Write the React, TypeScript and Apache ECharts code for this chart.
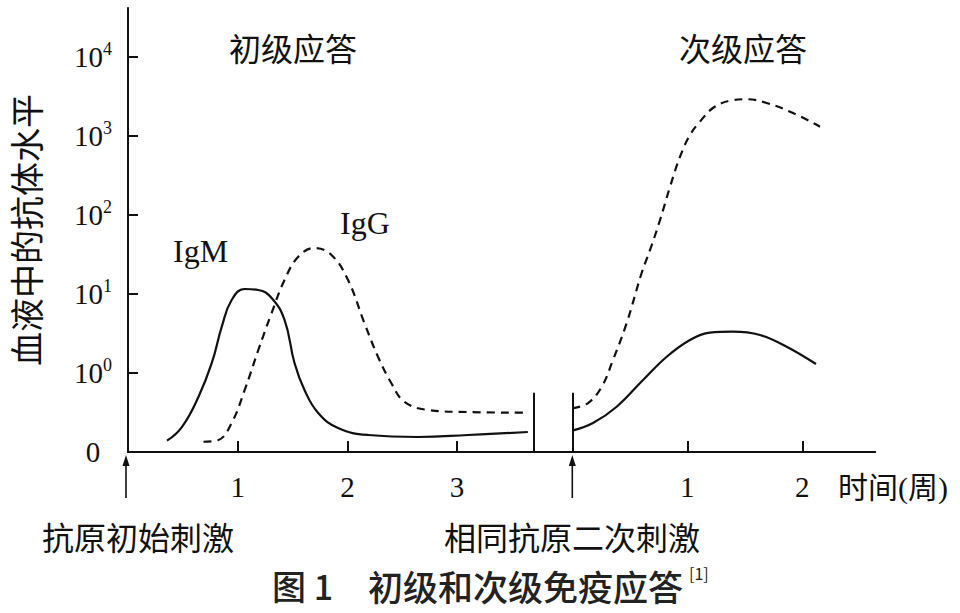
import React, { useEffect, useRef } from 'react';
import * as echarts from 'echarts';

// y axis: antibody level in log10 units; the "0" label sits one decade below 10^0
const yTickValues = [-1, 0, 1, 2, 3, 4];
const yMin = -1;
const yMax = 4.62;

// x axes (weeks)
const primaryTickWeeks = [1, 2, 3];
const secondaryTickWeeks = [1, 2];
const primaryMaxWeeks = 6.81;
const secondaryMaxWeeks = 2.632;
const breakWeek = 3.7;
const breakTopLog = -0.25;

// Primary response
const igmPrimaryWeeks = [0.355, 0.491, 0.643, 0.764, 0.855, 0.945, 1.064, 1.188, 1.309, 1.427, 1.518, 1.609, 1.734, 1.915, 2.191, 2.645, 3.1, 3.645];
const igmPrimaryLog = [-0.857, -0.684, -0.3, 0.127, 0.586, 0.924, 1.063, 1.051, 0.949, 0.671, 0.127, -0.215, -0.506, -0.696, -0.785, -0.81, -0.785, -0.747];

const iggPrimaryWeeks = [0.688, 0.825, 0.945, 1.064, 1.188, 1.309, 1.427, 1.552, 1.7, 1.855, 2.006, 2.155, 2.279, 2.4, 2.518, 2.734, 3.097, 3.643];
const iggPrimaryLog = [-0.87, -0.848, -0.633, -0.215, 0.291, 0.759, 1.177, 1.472, 1.582, 1.494, 1.177, 0.633, 0.206, -0.127, -0.363, -0.468, -0.494, -0.503];

// Secondary response
const igmSecondaryWeeks = [0, 0.18, 0.386, 0.615, 0.821, 1.023, 1.197, 1.397, 1.632, 1.864, 2.119];
const igmSecondaryLog = [-0.73, -0.633, -0.427, -0.089, 0.206, 0.418, 0.51, 0.523, 0.481, 0.333, 0.114];

const iggSecondaryWeeks = [0, 0.137, 0.256, 0.354, 0.473, 0.603, 0.676, 0.763, 0.85, 0.937, 1.023, 1.11, 1.223, 1.371, 1.517, 1.69, 1.919, 2.154];
const iggSecondaryLog = [-0.447, -0.38, -0.173, 0.165, 0.633, 1.266, 1.557, 1.937, 2.358, 2.738, 3.013, 3.181, 3.354, 3.447, 3.465, 3.418, 3.291, 3.118];

const SERIF = '"Liberation Serif", "Noto Sans CJK SC", serif';
const CJK = '"Noto Sans CJK SC", sans-serif';
const INK = '#111';

const zip = (xs: number[], ys: number[]) => xs.map((x, i) => [x, ys[i]]);

export default function App() {
  const ref = useRef<HTMLDivElement>(null);

  useEffect(() => {
    if (!ref.current) return;
    const chart = echarts.init(ref.current, null, { renderer: 'svg' });

    const gridTop = 8;
    const gridHeight = 444;

    const yAxisCommon = {
      type: 'value',
      min: yMin,
      max: yMax,
      splitLine: { show: false },
    };

    const solid = { color: INK, width: 2.2, type: 'solid' };
    const dashed = { color: INK, width: 2.2, type: [8, 6] };

    const xAxisCommon = {
      type: 'value',
      min: 0,
      axisLine: { show: true, onZero: false, lineStyle: { color: INK, width: 2 } },
      splitLine: { show: false },
    };

    const option: any = {
      animation: false,
      backgroundColor: '#fff',
      grid: [
        { left: 126, top: gridTop, width: 749, height: gridHeight },
        { left: 572.3, top: gridTop, width: 302.7, height: gridHeight },
      ],
      xAxis: [
        {
          ...xAxisCommon,
          gridIndex: 0,
          max: primaryMaxWeeks,
          axisTick: { show: true, inside: true, length: 11, lineStyle: { color: INK, width: 2 }, customValues: primaryTickWeeks },
          axisLabel: { show: true, customValues: primaryTickWeeks, margin: 20, fontSize: 29, lineHeight: 29, fontFamily: SERIF, color: INK },
        },
        {
          ...xAxisCommon,
          gridIndex: 1,
          max: secondaryMaxWeeks,
          axisTick: { show: true, inside: true, length: 11, lineStyle: { color: INK, width: 2 }, customValues: secondaryTickWeeks },
          axisLabel: { show: true, customValues: secondaryTickWeeks, margin: 20, fontSize: 29, lineHeight: 29, fontFamily: SERIF, color: INK },
        },
      ],
      yAxis: [
        {
          ...yAxisCommon,
          gridIndex: 0,
          name: '血液中的抗体水平',
          nameLocation: 'middle',
          nameRotate: 90,
          nameGap: 86,
          nameTextStyle: { fontSize: 34, fontFamily: CJK, color: INK },
          axisLine: { show: true, lineStyle: { color: INK, width: 2 } },
          axisTick: { show: true, inside: true, length: 10, lineStyle: { color: INK, width: 2 }, customValues: yTickValues },
          axisLabel: {
            show: true,
            customValues: yTickValues,
            align: 'center',
            margin: 35,
            formatter: (v: number) => (v === -1 ? '{b|0}' : `{b|10}{s|${v}}`),
            rich: {
              b: { fontSize: 29, fontFamily: SERIF, color: INK },
              s: { fontSize: 18, fontFamily: SERIF, color: INK, padding: [0, 0, 16, 0] },
            },
          },
        },
        {
          ...yAxisCommon,
          gridIndex: 1,
          show: false,
        },
      ],
      series: [
        {
          name: 'IgM 初级',
          type: 'line',
          xAxisIndex: 0,
          yAxisIndex: 0,
          data: zip(igmPrimaryWeeks, igmPrimaryLog),
          smooth: 0.45,
          showSymbol: false,
          symbol: 'none',
          lineStyle: solid,
          silent: true,
          markLine: {
            silent: true,
            symbol: ['none', 'none'],
            label: { show: false },
            lineStyle: { color: INK, width: 2, type: 'solid' },
            data: [[{ coord: [breakWeek, yMin] }, { coord: [breakWeek, breakTopLog] }]],
          },
        },
        {
          name: 'IgG 初级',
          type: 'line',
          xAxisIndex: 0,
          yAxisIndex: 0,
          data: zip(iggPrimaryWeeks, iggPrimaryLog),
          smooth: 0.4,
          showSymbol: false,
          symbol: 'none',
          lineStyle: dashed,
          silent: true,
        },
        {
          name: 'IgM 次级',
          type: 'line',
          xAxisIndex: 1,
          yAxisIndex: 1,
          data: zip(igmSecondaryWeeks, igmSecondaryLog),
          smooth: 0.4,
          showSymbol: false,
          symbol: 'none',
          lineStyle: solid,
          silent: true,
          markLine: {
            silent: true,
            symbol: ['none', 'none'],
            label: { show: false },
            lineStyle: { color: INK, width: 2, type: 'solid' },
            data: [[{ coord: [0, yMin] }, { coord: [0, breakTopLog] }]],
          },
        },
        {
          name: 'IgG 次级',
          type: 'line',
          xAxisIndex: 1,
          yAxisIndex: 1,
          data: zip(iggSecondaryWeeks, iggSecondaryLog),
          smooth: 0.4,
          showSymbol: false,
          symbol: 'none',
          lineStyle: dashed,
          silent: true,
        },
      ],
      graphic: [
        { type: 'text', x: 293, y: 47, style: { text: '初级应答', fontSize: 32, fontFamily: CJK, fill: INK, align: 'center', verticalAlign: 'middle' } },
        { type: 'text', x: 743, y: 47, style: { text: '次级应答', fontSize: 32, fontFamily: CJK, fill: INK, align: 'center', verticalAlign: 'middle' } },
        { type: 'text', x: 173, y: 251, style: { text: 'IgM', fontSize: 32, fontFamily: SERIF, fill: INK, align: 'left', verticalAlign: 'middle' } },
        { type: 'text', x: 340, y: 223, style: { text: 'IgG', fontSize: 32, fontFamily: SERIF, fill: INK, align: 'left', verticalAlign: 'middle' } },
        { type: 'text', x: 838, y: 487, style: { text: '时间(周)', fontSize: 30, fontFamily: SERIF, fill: INK, align: 'left', verticalAlign: 'middle' } },
        { type: 'text', x: 138, y: 536, style: { text: '抗原初始刺激', fontSize: 32, fontFamily: CJK, fill: INK, align: 'center', verticalAlign: 'middle' } },
        { type: 'text', x: 572, y: 536, style: { text: '相同抗原二次刺激', fontSize: 32, fontFamily: CJK, fill: INK, align: 'center', verticalAlign: 'middle' } },
        // arrows
        { type: 'line', shape: { x1: 126, y1: 462, x2: 126, y2: 498 }, style: { stroke: INK, lineWidth: 1.6 } },
        { type: 'polygon', shape: { points: [[126, 455], [122.5, 466], [129.5, 466]] }, style: { fill: INK } },
        { type: 'line', shape: { x1: 572.3, y1: 462, x2: 572.3, y2: 498 }, style: { stroke: INK, lineWidth: 1.6 } },
        { type: 'polygon', shape: { points: [[572.3, 455], [568.8, 466], [575.8, 466]] }, style: { fill: INK } },
        // caption
        { type: 'text', x: 272, y: 585, style: { text: '图 1', fontSize: 34, fontWeight: 500, fontFamily: CJK, fill: '#222', align: 'left', verticalAlign: 'middle' } },
        { type: 'text', x: 368, y: 585, style: { text: '初级和次级免疫应答', fontSize: 35, fontWeight: 500, fontFamily: CJK, fill: '#222', align: 'left', verticalAlign: 'middle' } },
        { type: 'text', x: 689, y: 573, style: { text: '[1]', fontSize: 16, fontFamily: CJK, fill: '#222', align: 'left', verticalAlign: 'middle' } },
      ],
    };

    chart.setOption(option);
    return () => chart.dispose();
  }, []);

  return <div ref={ref} style={{ position: 'absolute', left: 0, top: 0, width: 960, height: 613, background: '#fff' }} />;
}
